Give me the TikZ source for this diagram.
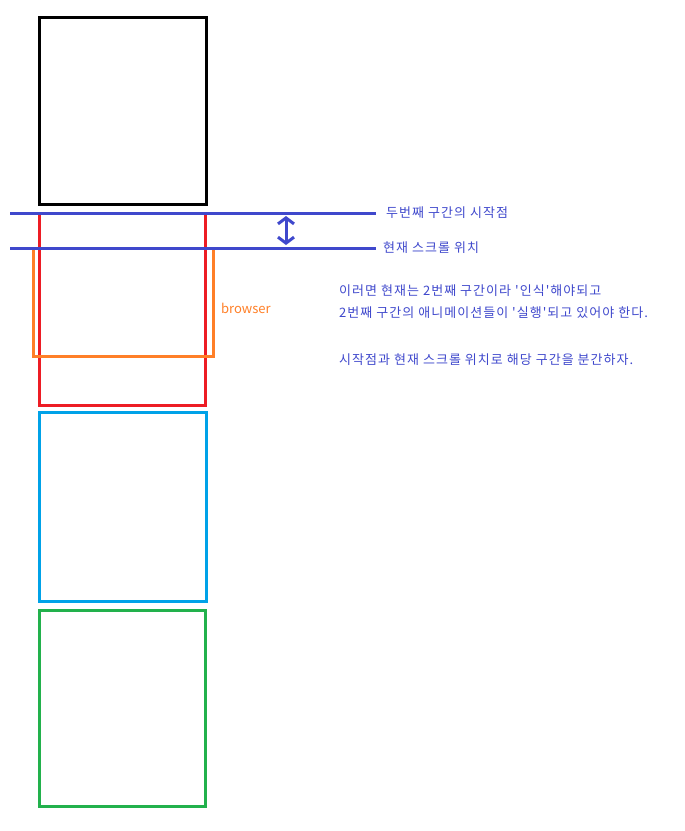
\documentclass[tikz,border=0pt]{standalone}
\usepackage{fontspec}
\newfontfamily\kr[LetterSpace=8]{Noto Sans CJK KR}
\newfontfamily\krlat{Noto Sans CJK KR}
\usetikzlibrary{arrows.meta}
\definecolor{pblue}{HTML}{3F48CC}
\definecolor{pred}{HTML}{ED1C24}
\definecolor{pcyan}{HTML}{00A2E8}
\definecolor{pgreen}{HTML}{22B14C}
\definecolor{porange}{HTML}{FF7F27}
\begin{document}
\begin{tikzpicture}[x=1pt,y=-1pt,
  boxline/.style={line width=3pt},
  guide/.style={draw=pblue,line width=3pt},
  lbl/.style={font=\kr\fontsize{13}{15}\selectfont,text=pblue,anchor=west,inner sep=0pt}]
\useasboundingbox (0,0) rectangle (685,831);
% black box
\draw[boxline,black] (39,17) rectangle (206,204);
% red section (top hidden under guide line)
\draw[boxline,pred] (39,213) -- (39,405) -- (205,405) -- (205,213);
% orange browser
\draw[boxline,porange] (33,248) -- (33,356) -- (213,356) -- (213,248);
\node[font=\krlat\fontsize{13}{15}\selectfont,text=porange,anchor=west,inner sep=0pt] (br) at (221,308) {browser};
% cyan and green
\draw[boxline,pcyan] (39,412) rectangle (206,601);
\draw[boxline,pgreen] (39,610) rectangle (205,806);
% guide lines
\coordinate (l1a) at (10,213); \coordinate (l1b) at (376,213);
\coordinate (l2a) at (10,248); \coordinate (l2b) at (376,248);
\draw[guide] (l1a) -- (l1b);
\draw[guide] (l2a) -- (l2b);
\coordinate (ar1) at (286,216); \coordinate (ar2) at (286,245);
\draw[draw=pblue,line width=3pt,{Straight Barb[length=6pt,width=16pt]}-{Straight Barb[length=6pt,width=16pt]}] (ar1) -- (ar2);
% labels
\node[lbl] (t1) at (386,213) {두번째 구간의 시작점};
\node[lbl] (t2) at (383,248) {현재 스크롤 위치};
\node[lbl] (p1) at (339,291) {이러면 현재는 2번째 구간이라 '인식'해야되고};
\node[lbl] (p2) at (339,313) {2번째 구간의 애니메이션들이 '실행'되고 있어야 한다.};
\node[lbl] (p3) at (339,360) {시작점과 현재 스크롤 위치로 해당 구간을 분간하자.};
\end{tikzpicture}
\end{document}
